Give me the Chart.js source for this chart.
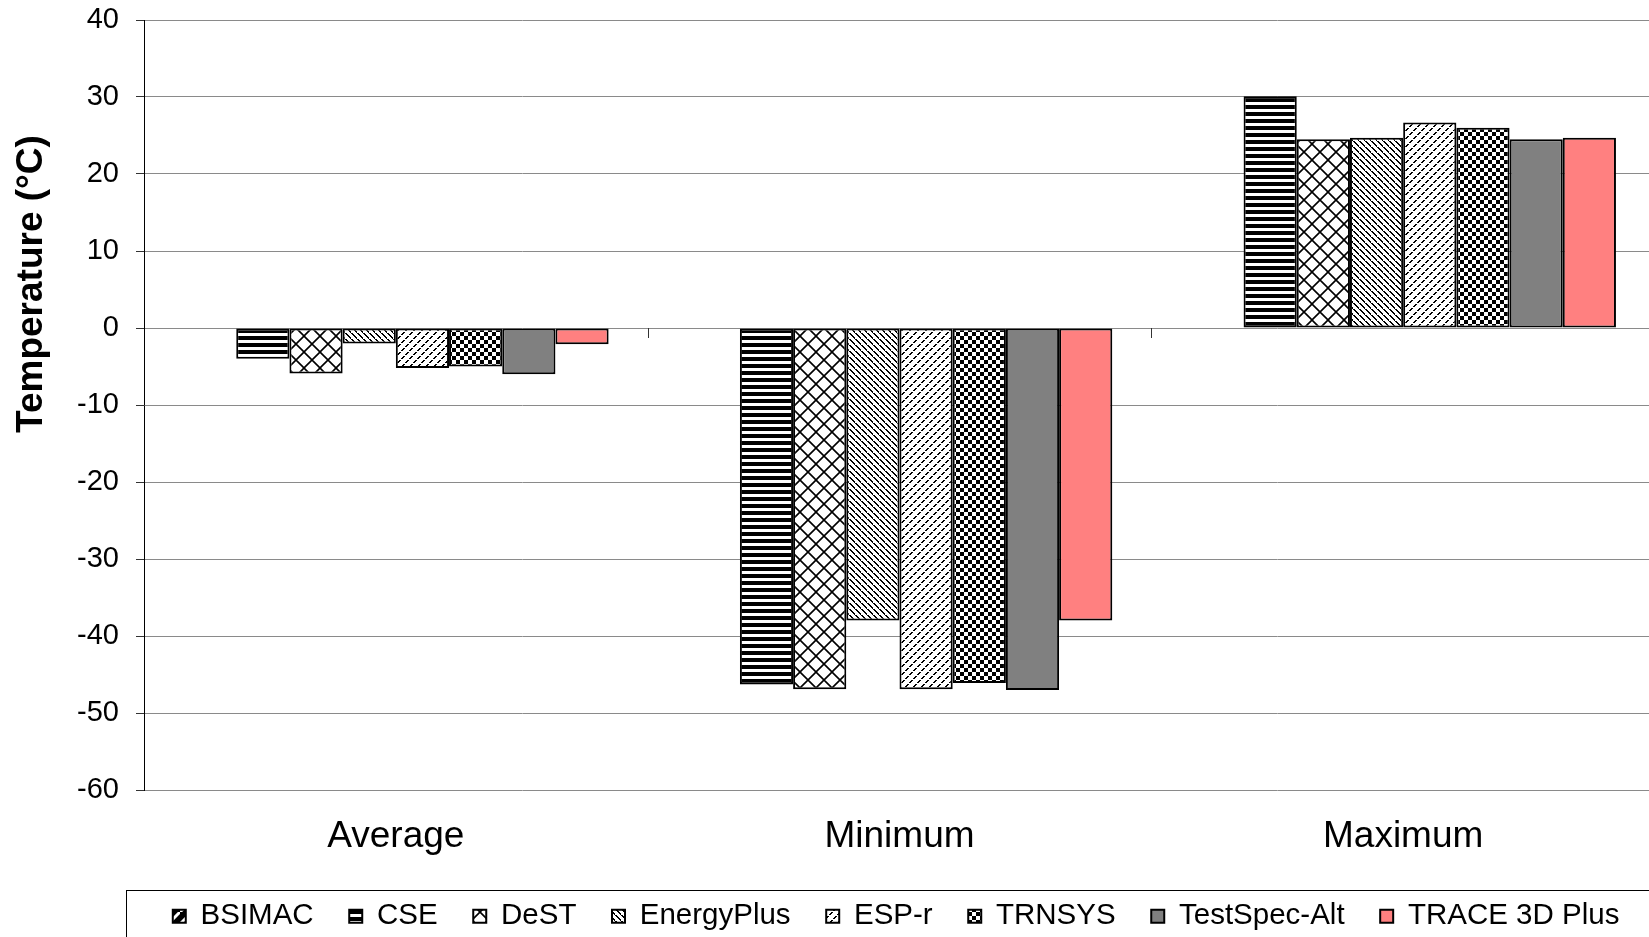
<!DOCTYPE html>
<html><head><meta charset="utf-8">
<script src="https://cdn.jsdelivr.net/npm/chart.js@4.4.0/dist/chart.umd.min.js"></script>
<style>
html,body{margin:0;padding:0;background:#fff;overflow:hidden;width:1649px;height:937px}
#wrap{position:relative;width:1657px;height:941px}
</style></head><body>
<div id="wrap"><canvas id="c"></canvas></div>
<script>
// ---- data ----
const categories = ['Average', 'Minimum', 'Maximum'];
const seriesNames = ['BSIMAC', 'CSE', 'DeST', 'EnergyPlus', 'ESP-r', 'TRNSYS', 'TestSpec-Alt', 'TRACE 3D Plus'];
const bsimac      = [null, null, null];
const cse         = [-4.0, -46.3, 30.1];
const dest        = [-5.9, -46.9, 24.5];
const energyPlus  = [-2.0, -38.0, 24.7];
const espR        = [-5.2, -46.9, 26.7];
const trnsys      = [-5.0, -46.1, 26.0];
const testSpecAlt = [-6.0, -47.0, 24.5];
const trace3DPlus = [-2.1, -38.0, 24.7];
const yMin = -60, yMax = 40, yStep = 10;
const yTitle = 'Temperature (°C)';

const FONT = "'Liberation Sans', Arial, Helvetica, sans-serif";
Chart.defaults.font.family = FONT;
Chart.defaults.color = '#000';

const mainCtx = document.getElementById('c').getContext('2d');
function makePattern(w, h, draw) {
  const c = document.createElement('canvas');
  c.width = w; c.height = h;
  const x = c.getContext('2d');
  x.fillStyle = '#fff'; x.fillRect(0, 0, w, h);
  x.fillStyle = '#000'; x.strokeStyle = '#000';
  draw(x, w, h);
  return mainCtx.createPattern(c, 'repeat');
}
const patBSIMAC = makePattern(12, 12, (x) => {
  x.fillRect(0, 0, 12, 12);
  x.strokeStyle = '#fff'; x.lineWidth = 3;
  x.beginPath(); x.moveTo(-2, 14); x.lineTo(14, -2); x.stroke();
});
const patCSE = makePattern(8, 7, (x) => { x.fillRect(0, 0, 8, 4); });
const patDeST = makePattern(16, 16, (x) => {
  x.lineWidth = 1.6;
  x.beginPath(); x.moveTo(-2, -2); x.lineTo(18, 18); x.moveTo(18, -2); x.lineTo(-2, 18); x.stroke();
});
const patEnergyPlus = makePattern(6, 6, (x) => {
  for (let i = 0; i < 6; i++) { if (i % 3 !== 2) { x.fillRect(i, i, 2, 1); } else { x.fillRect(i, i, 1, 1); } }
  x.fillRect(0, 5, 1, 1);
});
const patESPr = makePattern(8, 8, (x) => {
  for (let i = 0; i < 8; i++) { if (i % 4 !== 3) { x.fillRect((7 - i + 8) % 8, i, 1, 1); x.fillRect((8 - i) % 8, i, 1, 1); } }
});
const patTRNSYS = makePattern(8, 8, (x) => { x.fillRect(0, 0, 4, 4); x.fillRect(4, 4, 4, 4); });

const fills = [patBSIMAC, patCSE, patDeST, patEnergyPlus, patESPr, patTRNSYS, '#808080', '#ff8080'];
const seriesData = [bsimac, cse, dest, energyPlus, espR, trnsys, testSpecAlt, trace3DPlus];

const datasets = seriesNames.map((n, i) => ({
  label: n,
  data: seriesData[i],
  backgroundColor: fills[i],
  borderColor: '#000',
  borderWidth: 2,
  borderSkipped: false
}));

const extrasPlugin = {
  id: 'extras',
  afterDraw(chart) {
    const ctx = chart.ctx;
    const xs = chart.scales.x, ys = chart.scales.y;
    const y0 = ys.getPixelForValue(0);
    ctx.save();
    ctx.strokeStyle = '#333'; ctx.lineWidth = 1;
    for (let i = 1; i < categories.length; i++) {
      const xb = Math.round((xs.getPixelForValue(i - 1) + xs.getPixelForValue(i)) / 2) + 0.5;
      ctx.beginPath(); ctx.moveTo(xb, y0); ctx.lineTo(xb, y0 + 10); ctx.stroke();
    }
    ctx.strokeStyle = '#000'; ctx.lineWidth = 1;
    ctx.strokeRect(126.5, 890.5, 1700, 200);
    ctx.translate(32, 284);
    ctx.rotate(-Math.PI / 2);
    ctx.font = 'bold 37px ' + FONT;
    ctx.textAlign = 'center';
    ctx.textBaseline = 'middle';
    ctx.fillStyle = '#000';
    ctx.fillText(yTitle, 0, 0);
    ctx.restore();
  }
};

new Chart(mainCtx, {
  type: 'bar',
  data: { labels: categories, datasets },
  plugins: [extrasPlugin],
  options: {
    responsive: true,
    maintainAspectRatio: false,
    animation: false,
    layout: { padding: { top: 20, right: 2, left: 0, bottom: 0 } },
    datasets: { bar: { categoryPercentage: 0.845, barPercentage: 1.0 } },
    scales: {
      x: {
        grid: { display: false },
        border: { display: false },
        ticks: { font: { size: 37 }, color: '#000', padding: 17 },
        afterFit(s) { s.height = 75.9; }
      },
      y: {
        min: yMin, max: yMax,
        ticks: { stepSize: yStep, font: { size: 29 }, color: '#000', padding: 17 },
        grid: { color: '#8a8a8a', tickColor: '#333', tickLength: 8, lineWidth: 1 },
        border: { display: true, color: '#000', width: 1 },
        afterFit(s) { s.width = 144; s.paddingTop = 0; s.paddingBottom = 0; }
      }
    },
    plugins: {
      legend: {
        position: 'bottom',
        fullSize: true,
        align: 'end',
        labels: { boxWidth: 13, boxHeight: 13, padding: 35.6, font: { size: 29.5 }, color: '#000' }
      },
      tooltip: { enabled: false }
    }
  }
});
</script>
</body></html>
